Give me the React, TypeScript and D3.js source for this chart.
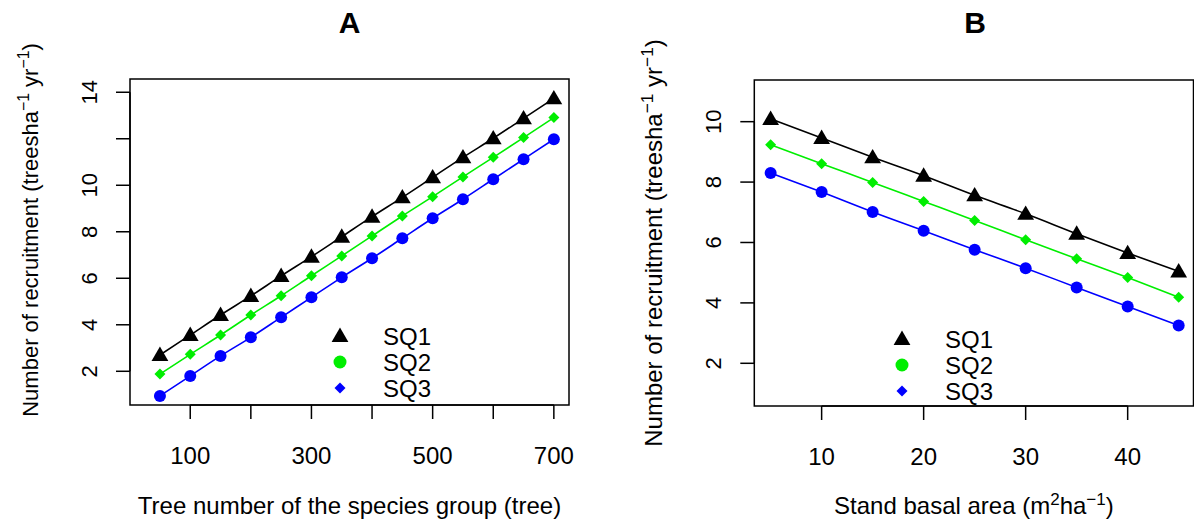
import React from "react";
import * as d3 from "d3";

// Panel A data
const treeNumber = [50, 100, 150, 200, 250, 300, 350, 400, 450, 500, 550, 600, 650, 700];
const sq1A = [2.70, 3.56, 4.42, 5.24, 6.10, 6.93, 7.79, 8.65, 9.48, 10.34, 11.20, 12.02, 12.88, 13.74];
const sq2A = [1.88, 2.73, 3.56, 4.42, 5.25, 6.11, 6.96, 7.82, 8.68, 9.51, 10.36, 11.20, 12.05, 12.91];
const sq3A = [0.94, 1.80, 2.66, 3.46, 4.32, 5.18, 6.04, 6.86, 7.72, 8.58, 9.40, 10.26, 11.12, 11.98];

// Panel B data
const basalArea = [5, 10, 15, 20, 25, 30, 35, 40, 45];
const sq1B = [10.09, 9.46, 8.82, 8.21, 7.56, 6.95, 6.29, 5.65, 5.04];
const sq2B = [9.24, 8.61, 7.99, 7.36, 6.73, 6.09, 5.46, 4.84, 4.19];
const sq3B = [8.30, 7.67, 7.01, 6.39, 5.76, 5.15, 4.51, 3.88, 3.25];

// Ticks
const xTicksA = [100, 200, 300, 400, 500, 600, 700];
const xLabelsA = ["100", "", "300", "", "500", "", "700"];
const yTicksA = [2, 4, 6, 8, 10, 12, 14];
const yLabelsA = ["2", "4", "6", "8", "10", "", "14"];
const xTicksB = [10, 20, 30, 40];
const xLabelsB = ["10", "20", "30", "40"];
const yTicksB = [2, 4, 6, 8, 10];
const yLabelsB = ["2", "4", "6", "8", "10"];

const seriesNames = ["SQ1", "SQ2", "SQ3"];
const FONT = "'Liberation Sans', Arial, Helvetica, sans-serif";

type Shape = "tri" | "circle" | "diamond";

function Marker({ x, y, shape, color, size }: { x: number; y: number; shape: Shape; color: string; size: number }) {
  if (shape === "circle") return <circle cx={x} cy={y} r={size} fill={color} />;
  if (shape === "diamond") {
    const s = size;
    return <path d={`M${x},${y - s}L${x + s},${y}L${x},${y + s}L${x - s},${y}Z`} fill={color} />;
  }
  const s = size;
  return <path d={`M${x},${y - s * 1.05}L${x + s * 1.05},${y + s * 0.75}L${x - s * 1.05},${y + s * 0.75}Z`} fill={color} />;
}

function Panel(props: {
  title: string;
  xs: number[];
  series: number[][];
  xDomain: [number, number];
  yDomain: [number, number];
  box: { l: number; r: number; t: number; b: number; rx: number };
  xTicks: number[];
  xLabels: string[];
  yTicks: number[];
  yLabels: string[];
  xTitle: React.ReactNode;
  yTitleX: number;
  yTitleY: number;
  yTitleSize: number;
  legendX: number;
  legendY: number;
  titleX: number;
}) {
  const { box } = props;
  const x = d3.scaleLinear().domain(props.xDomain).range([box.l, box.rx]);
  const y = d3.scaleLinear().domain(props.yDomain).range([box.b, box.t]);
  const colors = ["#000000", "#00ee00", "#0000ff"];
  const shapes: Shape[] = ["tri", "diamond", "circle"];
  const sizes = [8, 5.5, 6];
  const legendShapes: Shape[] = ["tri", "circle", "diamond"];
  const legendSizes = [8, 6.5, 5.5];
  const line = d3
    .line<number>()
    .x((_, i) => x(props.xs[i]))
    .y((d) => y(d))
    .curve(d3.curveMonotoneX);
  const tick = 14;
  const yt = props.yTicks;
  const xt = props.xTicks;
  return (
    <g fontFamily={FONT}>
      <text x={props.titleX} y={33} fontSize={30} fontWeight="bold" textAnchor="middle">
        {props.title}
      </text>
      <rect x={box.l} y={box.t} width={box.r - box.l} height={box.b - box.t} fill="none" stroke="#000" strokeWidth={1.5} />
      {/* y axis */}
      <line x1={box.l} x2={box.l} y1={y(yt[0])} y2={y(yt[yt.length - 1])} stroke="#000" strokeWidth={1.5} />
      {yt.map((v, i) => (
        <g key={"y" + i}>
          <line x1={box.l - tick} x2={box.l} y1={y(v)} y2={y(v)} stroke="#000" strokeWidth={1.5} />
          {props.yLabels[i] && (
            <text
              transform={`translate(${box.l - 33},${y(v)}) rotate(-90)`}
              fontSize={22}
              textAnchor="middle"
            >
              {props.yLabels[i]}
            </text>
          )}
        </g>
      ))}
      {/* x axis */}
      <line x1={x(xt[0])} x2={x(xt[xt.length - 1])} y1={box.b} y2={box.b} stroke="#000" strokeWidth={1.5} />
      {xt.map((v, i) => (
        <g key={"x" + i}>
          <line x1={x(v)} x2={x(v)} y1={box.b} y2={box.b + tick} stroke="#000" strokeWidth={1.5} />
          {props.xLabels[i] && (
            <text x={x(v)} y={box.b + 59} fontSize={24} textAnchor="middle">
              {props.xLabels[i]}
            </text>
          )}
        </g>
      ))}
      {/* axis titles */}
      <text x={(box.l + box.r) / 2} y={514} fontSize={24} textAnchor="middle">
        {props.xTitle}
      </text>
      <text
        transform={`translate(${props.yTitleX},${props.yTitleY}) rotate(-90)`}
        fontSize={props.yTitleSize}
        textAnchor="middle"
      >
        Number of recruitment (treesha
        <tspan dy={-9} fontSize={props.yTitleSize * 0.72}>−1</tspan>
        <tspan dy={9}> yr</tspan>
        <tspan dy={-9} fontSize={props.yTitleSize * 0.72}>−1</tspan>
        <tspan dy={9}>)</tspan>
      </text>
      {/* series */}
      {props.series.map((s, k) => (
        <g key={"s" + k}>
          <path d={line(s) || ""} fill="none" stroke={colors[k]} strokeWidth={1.6} />
          {s.map((v, i) => (
            <Marker key={i} x={x(props.xs[i])} y={y(v)} shape={shapes[k]} color={colors[k]} size={sizes[k]} />
          ))}
        </g>
      ))}
      {/* legend */}
      {seriesNames.map((n, k) => (
        <g key={"l" + k}>
          <Marker x={props.legendX} y={props.legendY + k * 26} shape={legendShapes[k]} color={colors[k]} size={legendSizes[k]} />
          <text x={props.legendX + 43} y={props.legendY + k * 26 + 9} fontSize={24}>
            {n}
          </text>
        </g>
      ))}
    </g>
  );
}

export default function App() {
  return (
    <svg width={1194} height={532} style={{ position: "absolute", left: 0, top: 0, background: "#fff" }}>
      <rect width={1194} height={532} fill="#fff" />
      <Panel
        title="A"
        xs={treeNumber}
        series={[sq1A, sq2A, sq3A]}
        xDomain={[0.6, 725]}
        yDomain={[0.55, 14.57]}
        box={{ l: 130, r: 569, t: 79, b: 405, rx: 569 }}
        xTicks={xTicksA}
        xLabels={xLabelsA}
        yTicks={yTicksA}
        yLabels={yLabelsA}
        xTitle="Tree number of the species group (tree)"
        yTitleX={38}
        yTitleY={230}
        yTitleSize={22}
        legendX={340}
        legendY={336}
        titleX={349.5}
      />
      <Panel
        title="B"
        xs={basalArea}
        series={[sq1B, sq2B, sq3B]}
        xDomain={[3.4, 46.6]}
        yDomain={[0.586, 11.38]}
        box={{ l: 754.3, r: 1193.5, t: 80, b: 406, rx: 1195 }}
        xTicks={xTicksB}
        xLabels={xLabelsB}
        yTicks={yTicksB}
        yLabels={yLabelsB}
        xTitle={
          <>
            Stand basal area (m
            <tspan dy={-9} fontSize={17}>2</tspan>
            <tspan dy={9}>ha</tspan>
            <tspan dy={-9} fontSize={17}>−1</tspan>
            <tspan dy={9}>)</tspan>
          </>
        }
        yTitleX={662}
        yTitleY={243}
        yTitleSize={24}
        legendX={902}
        legendY={339}
        titleX={975}
      />
    </svg>
  );
}
